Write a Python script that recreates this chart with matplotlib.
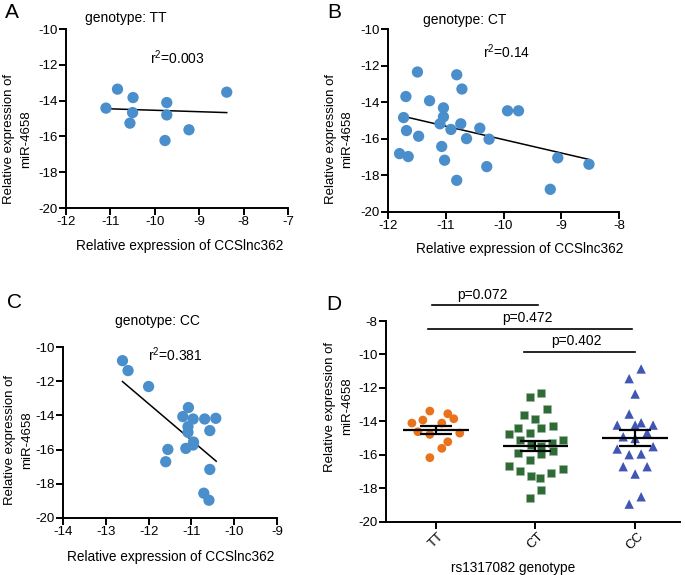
import matplotlib
matplotlib.use("Agg")
import matplotlib.pyplot as plt
import numpy as np

plt.rcParams['font.family'] = ['Liberation Sans', 'DejaVu Sans']
plt.rcParams['font.size'] = 9.5
plt.rcParams['axes.unicode_minus'] = False

# --- panel A: genotype TT ---
tt_x = [-11.10, -10.84, -10.49, -10.50, -10.56, -9.73, -9.73, -9.77, -9.23, -8.38]
tt_y = [-14.42, -13.36, -13.83, -14.67, -15.26, -14.11, -14.80, -16.23, -15.63, -13.53]
fit_tt_x = [-11.0, -8.38]
fit_tt_y = [-14.46, -14.67]

# --- panel B: genotype CT ---
ct_x = [-11.49, -10.81, -10.72, -11.69, -11.28, -11.04, -9.93, -9.74, -11.73, -11.04,
        -11.10, -10.74, -10.91, -10.41, -11.68, -11.47, -10.64, -10.25, -11.07, -11.80,
        -11.65, -11.02, -9.06, -8.52, -10.29, -10.81, -9.19]
ct_y = [-12.35, -12.50, -13.28, -13.69, -13.92, -14.31, -14.47, -14.47, -14.84, -14.80,
        -15.18, -15.18, -15.49, -15.42, -15.55, -15.86, -15.99, -16.02, -16.42, -16.81,
        -16.97, -17.17, -17.04, -17.39, -17.52, -18.27, -18.76]
fit_ct_x = [-11.67, -8.53]
fit_ct_y = [-14.82, -17.12]

# --- panel C: genotype CC ---
cc_x = [-12.61, -12.48, -12.00, -11.07, -11.20, -10.96, -10.69, -10.43, -11.08, -11.08,
        -10.57, -10.95, -10.96, -11.13, -11.55, -11.60, -10.57, -10.71, -10.59]
cc_y = [-10.80, -11.38, -12.31, -13.54, -14.07, -14.21, -14.21, -14.17, -14.66, -14.99,
        -14.89, -15.56, -15.73, -15.93, -15.99, -16.71, -17.16, -18.55, -18.96]
fit_cc_x = [-12.61, -10.42]
fit_cc_y = [-12.02, -16.68]

# --- panel D: miR-4658 by genotype ---
groups = ['TT', 'CT', 'CC']
d_tt_dx = [-0.06, 0.12, 0.18, -0.24, 0.06, -0.13, -0.18, -0.06, 0.24, 0.12, 0.06, -0.06]
d_tt_y = [-13.39, -13.55, -13.85, -14.11, -14.11, -13.93, -14.63, -14.79, -14.71, -15.23, -15.62, -16.18]
d_ct_dx = [0.06, -0.06, 0.12, -0.12, 0.0, 0.18, -0.18, 0.06, -0.27, -0.06, 0.28, -0.16, -0.05, 0.06,
           0.17, 0.18, -0.18, 0.06, -0.06, -0.27, -0.16, 0.28, 0.16, -0.05, 0.05, 0.06, -0.06]
d_ct_y = [-12.33, -12.53, -13.27, -13.63, -13.89, -14.27, -14.41, -14.43, -14.77, -14.73, -15.11, -15.13,
          -15.43, -15.49, -15.33, -15.78, -15.92, -15.98, -16.32, -16.70, -16.96, -16.86, -17.08, -17.28,
          -17.40, -18.12, -18.62]
d_cc_dx = [0.06, -0.06, 0.0, -0.06, -0.18, 0.0, 0.06, 0.18, 0.12, -0.12, 0.0, -0.18, 0.18, -0.06,
           0.06, -0.12, 0.12, 0.0, 0.06, -0.06]
d_cc_y = [-10.87, -11.45, -12.37, -13.57, -14.23, -14.23, -14.09, -14.23, -14.69, -14.93, -15.03,
          -15.66, -15.52, -16.00, -15.96, -16.72, -16.72, -17.16, -18.52, -18.96]
d_mean = [-14.55, -15.49, -15.03]
d_sem = [0.24, 0.30, 0.48]
comp_x0 = [-0.04, -0.08, 0.88]
comp_x1 = [1.03, 1.97, 2.00]
comp_y = [-7.04, -8.46, -9.84]
comp_p = ['p=0.072', 'p=0.472', 'p=0.402']

W, H = 685, 575
fig = plt.figure(figsize=(W / 100, H / 100), dpi=100)


def px_axes(left, top, right, bottom):
    return fig.add_axes([left / W, 1 - bottom / H, (right - left) / W, (bottom - top) / H])


def style(ax):
    for s in ['top', 'right']:
        ax.spines[s].set_visible(False)
    for s in ['left', 'bottom']:
        ax.spines[s].set_linewidth(1.4)
    ax.tick_params(width=1.4, length=5, labelsize=9.5, pad=1)


blue = '#4A8FCB'
ylab = 'Relative expression of\nmiR-4658'
xlab = 'Relative expression of CCSlnc362'

scatter_panels = [
    ('A', (66, 29, 288, 208), tt_x, tt_y, fit_tt_x, fit_tt_y, (-12, -7), 'TT', '0.003',
     (-10.65, -9.39), (-9.49, -11.62), (-0.217, 0.386), (0.511, -0.214), (12, 13)),
    ('B', (388, 29, 619, 212), ct_x, ct_y, fit_ct_x, fit_ct_y, (-12, -8), 'CT', '0.14',
     (-10.67, -9.53), (-9.95, -11.23), (-0.212, 0.399), (0.571, -0.200), (334, 12)),
    ('C', (63, 347, 277, 518), cc_x, cc_y, fit_cc_x, fit_cc_y, (-14, -9), 'CC', '0.381',
     (-11.80, -8.50), (-11.38, -10.45), (-0.207, 0.456), (0.505, -0.229), (15, 303)),
]

for (letter, box, xs, ys, fx, fy, xlim, gt, r2, gpos, rpos, ylpos, xlpos, lpos) in scatter_panels:
    ax = px_axes(*box)
    style(ax)
    ax.scatter(xs, ys, s=66, color=blue, edgecolors='none', zorder=3, clip_on=False)
    ax.plot(fx, fy, color='black', lw=1.1, zorder=2)
    ax.set_xlim(*xlim)
    ax.set_ylim(-20, -10)
    ax.set_xticks(np.arange(xlim[0], xlim[1] + 1, 1))
    ax.set_yticks(np.arange(-20, -9, 2))
    ax.text(*gpos, 'genotype: ' + gt, ha='center', va='center', fontsize=10, clip_on=False)
    ax.text(*rpos, 'r$^\\mathregular{2}$=' + r2, ha='center', va='center', fontsize=10, clip_on=False)
    ax.text(*ylpos, ylab, transform=ax.transAxes, rotation=90, ha='center', va='center',
            fontsize=9.5, linespacing=1.55)
    ax.text(*xlpos, xlab, transform=ax.transAxes, ha='center', va='center', fontsize=9.8)
    fig.text(lpos[0] / W, 1 - lpos[1] / H, letter, ha='center', va='center', fontsize=15)

# panel D
ax = px_axes(386, 321, 680, 521.5)
style(ax)
pos = np.arange(len(groups))
ax.scatter(pos[0] + np.array(d_tt_dx), d_tt_y, s=40, marker='o', color='#E8731C',
           edgecolors='none', zorder=3)
ax.scatter(pos[1] + np.array(d_ct_dx), d_ct_y, s=38, marker='s', color='#2E6B37',
           edgecolors='#9DB8A0', linewidths=0.4, zorder=3)
ax.scatter(pos[2] + np.array(d_cc_dx), d_cc_y, s=46, marker='^', color='#4055B5',
           edgecolors='none', zorder=3)
for i in range(len(groups)):
    ax.hlines(d_mean[i], pos[i] - 0.33, pos[i] + 0.33, color='black', lw=1.6, zorder=4)
    ax.hlines([d_mean[i] - d_sem[i], d_mean[i] + d_sem[i]], pos[i] - 0.16, pos[i] + 0.16,
              color='black', lw=1.6, zorder=4)
    ax.vlines(pos[i], d_mean[i] - d_sem[i], d_mean[i] + d_sem[i], color='black', lw=1.6, zorder=4)
for x0, x1, y, p in zip(comp_x0, comp_x1, comp_y, comp_p):
    ax.plot([x0, x1], [y, y], color='black', lw=1.2, clip_on=False)
    ax.text((x0 + x1) / 2 - 0.03, y + 0.2, p, ha='center', va='bottom', fontsize=10, clip_on=False)
ax.set_xlim(-0.5, 2.45)
ax.set_ylim(-20, -8)
ax.set_yticks(np.arange(-20, -7, 2))
ax.set_xticks(pos)
ax.set_xticklabels(groups, rotation=45, ha='center', va='top')
ax.text(-0.162, 0.573, ylab, transform=ax.transAxes, rotation=90, ha='center', va='center',
        fontsize=9.5, linespacing=1.55)
ax.text(0.432, -0.233, 'rs1317082 genotype', transform=ax.transAxes, ha='center', va='center',
        fontsize=9.8)
fig.text(334 / W, 1 - 304.5 / H, 'D', ha='center', va='center', fontsize=15)

fig.savefig('out.png', dpi=100)
